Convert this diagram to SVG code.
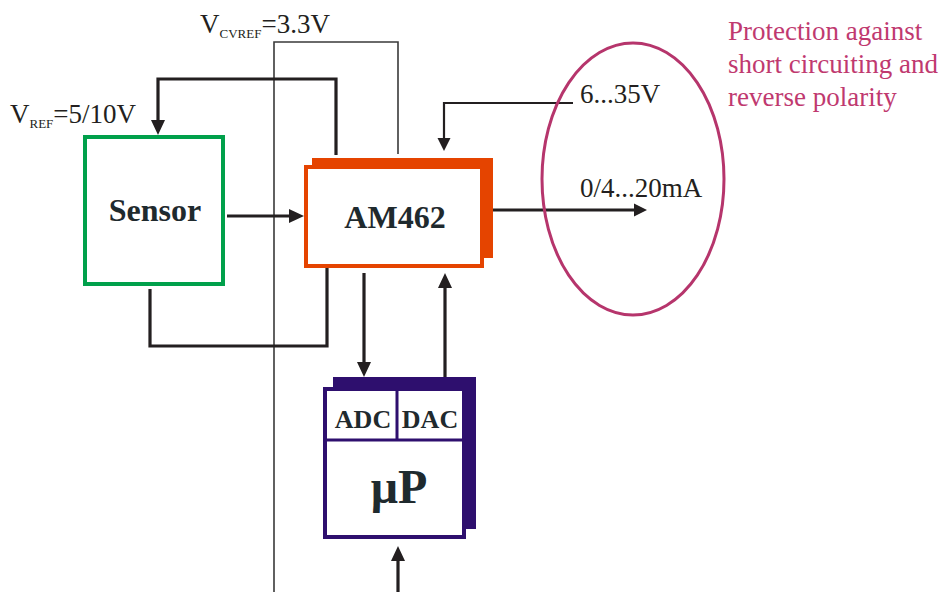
<svg xmlns="http://www.w3.org/2000/svg" width="942" height="592" viewBox="0 0 942 592">
<style>
.bg{fill:#ffffff}
.lbl{font-family:"Liberation Serif","Times New Roman",serif;fill:#231f20}
.blk{font-family:"Liberation Serif","Times New Roman",serif;font-weight:bold;fill:#1f2a2e;text-anchor:middle}
.prot{font-family:"Liberation Serif","Times New Roman",serif;fill:#c0396f;font-size:27px}
.thick{fill:none;stroke:#231f20;stroke-width:3.2}
.mid{fill:none;stroke:#231f20;stroke-width:2.2}
.thin{fill:none;stroke:#3a3a3a;stroke-width:1.6}
</style>
<defs>
<marker id="ah" markerUnits="userSpaceOnUse" markerWidth="16" markerHeight="16" refX="0" refY="7" orient="auto" overflow="visible">
<path d="M0,0 L15,7 L0,14 z" fill="#231f20"/>
</marker>
<marker id="ahs" markerUnits="userSpaceOnUse" markerWidth="16" markerHeight="16" refX="0" refY="6.5" orient="auto" overflow="visible">
<path d="M0,0 L13,6.5 L0,13 z" fill="#231f20"/>
</marker>
</defs>
<rect class="bg" x="0" y="0" width="942" height="592"/>

<g id="connectors">
<path class="thin" d="M274,592 V42 H398 V154"/>
<path class="thick" d="M336,155 V79 H158 V120" marker-end="url(#ah)"/>
<path class="thick" d="M227,216 H289" marker-end="url(#ah)"/>
<path class="thick" d="M150,289 V346 H327 V268"/>
<path class="mid" d="M573,103 H444 V138" marker-end="url(#ahs)"/>
<path class="thick" d="M493,210 H634" marker-end="url(#ahs)"/>
<path class="thick" d="M364,273 V362" marker-end="url(#ah)"/>
<path class="thick" d="M445,377 V288" marker-end="url(#ah)"/>
<path class="thick" d="M398,592 V561" marker-end="url(#ah)"/>
</g>

<g id="sensor">
<rect x="85" y="137" width="138" height="147" fill="#ffffff" stroke="#00a04b" stroke-width="4"/>
<text class="blk" x="155" y="221" font-size="32">Sensor</text>
</g>

<g id="am462">
<rect x="312" y="158" width="181" height="100" fill="#e54400"/>
<rect x="306" y="167" width="176" height="99" fill="#ffffff" stroke="#e54400" stroke-width="4"/>
<text class="blk" x="395" y="228" font-size="32">AM462</text>
</g>

<g id="up">
<rect x="333" y="377" width="143" height="152" fill="#2e0f6e"/>
<rect x="325" y="389" width="139" height="148" fill="#ffffff" stroke="#2e0f6e" stroke-width="4"/>
<path d="M325,440 H464 M397,389 V440" fill="none" stroke="#2e0f6e" stroke-width="3"/>
<text class="blk" x="363" y="428" font-size="26">ADC</text>
<text class="blk" x="430" y="428" font-size="26">DAC</text>
<text class="blk" x="399" y="503" font-size="48">μP</text>
</g>

<g id="protection">
<ellipse cx="633" cy="179" rx="91" ry="136" fill="none" stroke="#b6356c" stroke-width="3"/>
<text class="prot" x="728" y="40">Protection against</text>
<text class="prot" x="728" y="73">short circuiting and</text>
<text class="prot" x="728" y="106">reverse polarity</text>
</g>

<g id="labels">
<text class="lbl" x="10" y="123" font-size="27">V<tspan font-size="13" dy="5">REF</tspan><tspan dy="-5">=5/10V</tspan></text>
<text class="lbl" x="200" y="33" font-size="27">V<tspan font-size="13" dy="5">CVREF</tspan><tspan dy="-5">=3.3V</tspan></text>
<text class="lbl" x="580" y="103" font-size="27">6...35V</text>
<text class="lbl" x="580" y="197" font-size="27">0/4...20mA</text>
</g>
</svg>
